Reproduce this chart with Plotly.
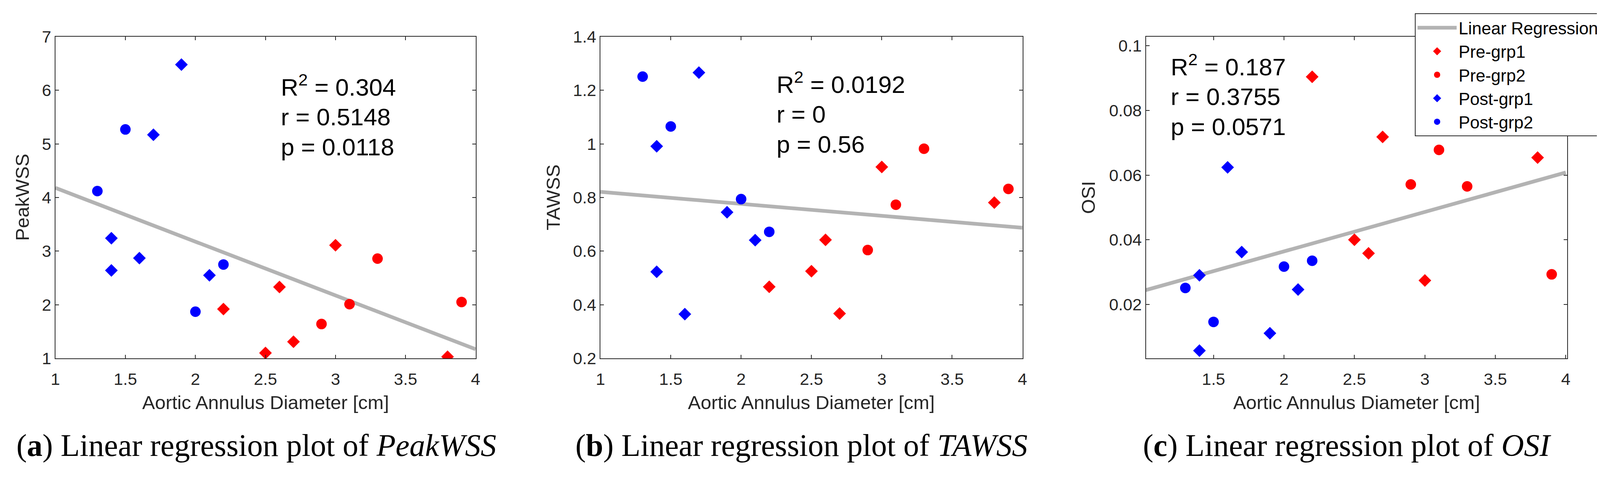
import plotly.graph_objects as go

# ---------------- data ----------------
diam_pre1 = [2.2, 2.5, 2.6, 2.7, 3.0, 3.8]
diam_pre2 = [2.9, 3.1, 3.3, 3.9]
diam_post1 = [1.4, 1.4, 1.6, 1.7, 1.9, 2.1]
diam_post2 = [1.3, 1.5, 2.0, 2.2]

peak_pre1 = [1.92, 1.10, 2.33, 1.31, 3.11, 1.03]
peak_pre2 = [1.64, 2.01, 2.86, 2.05]
peak_post1 = [3.24, 2.64, 2.87, 5.17, 6.48, 2.55]
peak_post2 = [4.12, 5.27, 1.87, 2.75]

tawss_pre1 = [0.467, 0.525, 0.642, 0.367, 0.914, 0.781]
tawss_pre2 = [0.604, 0.773, 0.982, 0.832]
tawss_post1 = [0.991, 0.523, 0.365, 1.266, 0.745, 0.641]
tawss_post2 = [1.251, 1.065, 0.794, 0.672]

osi_pre1 = [0.0904, 0.0400, 0.0358, 0.0718, 0.0274, 0.0654]
osi_pre2 = [0.0571, 0.0678, 0.0565, 0.0293]
osi_post1 = [0.0290, 0.0057, 0.0624, 0.0362, 0.0111, 0.0246]
osi_post2 = [0.0251, 0.0146, 0.0317, 0.0335]

reg_x = [1, 4]
reg_peak = [4.18, 1.17]
reg_tawss = [0.821, 0.687]
reg_osi = [0.0242, 0.0608]

stats_peak = ["R<sup>2</sup> = 0.304", "r = 0.5148", "p = 0.0118"]
stats_tawss = ["R<sup>2</sup> = 0.0192", "r = 0", "p = 0.56"]
stats_osi = ["R<sup>2</sup> = 0.187", "r = 0.3755", "p = 0.0571"]

ylabels = ["PeakWSS", "TAWSS", "OSI"]
xlabel = "Aortic Annulus Diameter [cm]"
captions = ["(<b>a</b>) Linear regression plot of <i>PeakWSS</i>",
            "(<b>b</b>) Linear regression plot of <i>TAWSS</i>",
            "(<b>c</b>) Linear regression plot of <i>OSI</i>"]

xtick_vals = [1, 1.5, 2, 2.5, 3, 3.5, 4]
xtick_text = ["1", "1.5", "2", "2.5", "3", "3.5", "4"]
ytick_peak = [1, 2, 3, 4, 5, 6, 7]
ytick_peak_text = ["1", "2", "3", "4", "5", "6", "7"]
ytick_tawss = [0.2, 0.4, 0.6, 0.8, 1.0, 1.2, 1.4]
ytick_tawss_text = ["0.2", "0.4", "0.6", "0.8", "1", "1.2", "1.4"]
ytick_osi = [0.02, 0.04, 0.06, 0.08, 0.1]
ytick_osi_text = ["0.02", "0.04", "0.06", "0.08", "0.1"]

# ---------------- geometry / styling ----------------
# the page body has an 8 px margin; positions below are screen pixels
OFF = 8
W, H = 4171 - 2 * OFF, 1222 - 2 * OFF


def fx(px):
    return (px - OFF) / W


def fy(py):
    return 1 - (py - OFF) / H


RED, BLUE, GREY, AX = "#FF0000", "#0000FF", "#B3B3B3", "#262626"
SANS = "Liberation Sans, Arial, Helvetica, sans-serif"
SERIF = "Liberation Serif, Times New Roman, serif"

panels = [
    dict(pre1=peak_pre1, pre2=peak_pre2, post1=peak_post1, post2=peak_post2,
         reg=reg_peak, xr=[1, 4], yr=[1, 7], yt=(ytick_peak, ytick_peak_text),
         dom=(141.7, 1217.5), stats=stats_peak, sx=717, sb=(246, 322, 399),
         ylab_x=57, cap_x=656),
    dict(pre1=tawss_pre1, pre2=tawss_pre2, post1=tawss_post1, post2=tawss_post2,
         reg=reg_tawss, xr=[1, 4], yr=[0.2, 1.4], yt=(ytick_tawss, ytick_tawss_text),
         dom=(1537.1, 2617.5), stats=stats_tawss, sx=1986, sb=(239, 315, 392),
         ylab_x=1416, cap_x=2052),
    dict(pre1=osi_pre1, pre2=osi_pre2, post1=osi_post1, post2=osi_post2,
         reg=reg_osi, xr=[1.02, 4.01], yr=[0.00333, 0.1028], yt=(ytick_osi, ytick_osi_text),
         dom=(2933.5, 4012), stats=stats_osi, sx=2995, sb=(193.5, 270, 347),
         ylab_x=2786, cap_x=3448),
]

PLOT_TOP, PLOT_BOT = 94, 918

fig = go.Figure()
annotations = []
tickfont = dict(family=SANS, size=43, color=AX)

for i, p in enumerate(panels):
    n = "" if i == 0 else str(i + 1)
    xa, ya = "x" + n, "y" + n
    xo = "x" + str(i + 4)          # overlay x axis: draws the inside tick marks
    legend_on = (i == 2)
    fig.add_trace(go.Scatter(x=reg_x, y=p["reg"], mode="lines", name="Linear Regression",
                             line=dict(color=GREY, width=9.5), xaxis=xa, yaxis=ya,
                             showlegend=legend_on))
    fig.add_trace(go.Scatter(x=diam_pre1, y=p["pre1"], mode="markers", name="Pre-grp1",
                             marker=dict(symbol="diamond", size=25, color=RED, line=dict(width=0)),
                             xaxis=xa, yaxis=ya, showlegend=legend_on))
    fig.add_trace(go.Scatter(x=diam_pre2, y=p["pre2"], mode="markers", name="Pre-grp2",
                             marker=dict(symbol="circle", size=27, color=RED, line=dict(width=0)),
                             xaxis=xa, yaxis=ya, showlegend=legend_on))
    fig.add_trace(go.Scatter(x=diam_post1, y=p["post1"], mode="markers", name="Post-grp1",
                             marker=dict(symbol="diamond", size=25, color=BLUE, line=dict(width=0)),
                             xaxis=xa, yaxis=ya, showlegend=legend_on))
    fig.add_trace(go.Scatter(x=diam_post2, y=p["post2"], mode="markers", name="Post-grp2",
                             marker=dict(symbol="circle", size=27, color=BLUE, line=dict(width=0)),
                             xaxis=xa, yaxis=ya, showlegend=legend_on))
    # invisible placeholder so the overlay tick axis gets drawn
    fig.add_trace(go.Scatter(x=[p["xr"][0]], y=[p["yr"][0]], mode="markers",
                             marker=dict(opacity=0, size=1), hoverinfo="skip",
                             xaxis=xo, yaxis=ya, showlegend=False))

    xdom = [fx(p["dom"][0]), fx(p["dom"][1])]
    # main x axis: frame + tick labels (transparent outside ticks push labels down)
    fig.layout["xaxis" + n] = dict(
        domain=xdom, range=p["xr"], tickvals=xtick_vals, ticktext=xtick_text,
        anchor=ya, showline=True, linecolor=AX, linewidth=2, mirror=True,
        ticks="outside", ticklen=14, tickcolor="rgba(0,0,0,0)",
        showgrid=False, zeroline=False, automargin=False, tickfont=tickfont)
    # overlay x axis: inside tick marks at bottom and top
    fig.layout["xaxis" + str(i + 4)] = dict(
        domain=xdom, range=p["xr"], tickvals=xtick_vals, overlaying=xa, anchor=ya,
        side="bottom", showline=True, linecolor=AX, linewidth=2, mirror="ticks",
        ticks="inside", ticklen=9, tickwidth=2, tickcolor=AX, showticklabels=False,
        showgrid=False, zeroline=False, automargin=False)
    fig.layout["yaxis" + n] = dict(
        domain=[fy(PLOT_BOT), fy(PLOT_TOP)], range=p["yr"],
        tickvals=p["yt"][0], ticktext=p["yt"][1], anchor=xa,
        showline=True, linecolor=AX, linewidth=2, mirror="ticks",
        ticks="inside", ticklen=9, tickwidth=2, tickcolor=AX,
        showgrid=False, zeroline=False, automargin=False, tickfont=tickfont)

    # stats text
    for line, base in zip(p["stats"], p["sb"]):
        annotations.append(dict(text=line, xref="paper", yref="paper",
                                x=fx(p["sx"]), y=fy(base + 14),
                                xanchor="left", yanchor="bottom", showarrow=False,
                                font=dict(family=SANS, size=62, color="black")))
    # x label
    cx = (p["dom"][0] + p["dom"][1]) / 2
    annotations.append(dict(text=xlabel, xref="paper", yref="paper",
                            x=fx(cx), y=fy(1060), xanchor="center", yanchor="bottom",
                            showarrow=False, font=dict(family=SANS, size=49, color=AX)))
    # y label
    annotations.append(dict(text=ylabels[i], xref="paper", yref="paper",
                            x=fx(p["ylab_x"]), y=fy((PLOT_TOP + PLOT_BOT) / 2),
                            xanchor="center", yanchor="middle", textangle=-90,
                            showarrow=False, font=dict(family=SANS, size=49, color=AX)))
    # caption
    annotations.append(dict(text=captions[i], xref="paper", yref="paper",
                            x=fx(p["cap_x"]), y=fy(1188), xanchor="center", yanchor="bottom",
                            showarrow=False, font=dict(family=SERIF, size=80, color="black")))

fig.update_layout(
    width=W, height=H, margin=dict(l=0, r=0, t=0, b=0, autoexpand=False),
    paper_bgcolor="white", plot_bgcolor="white",
    annotations=annotations, hovermode=False,
    legend=dict(x=fx(3622), y=fy(34), xanchor="left", yanchor="top",
                xref="container", yref="container",
                bgcolor="white", bordercolor=AX, borderwidth=2,
                font=dict(family=SANS, size=44, color="black"),
                itemwidth=100, tracegroupgap=0),
)

fig.write_html("out.html")
